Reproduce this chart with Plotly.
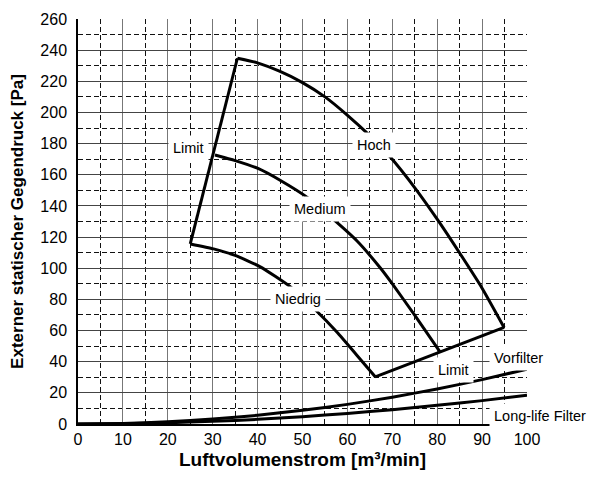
import plotly.graph_objects as go

# ---- data ----
hoch_x = [35.5, 39.8, 45.0, 49.9, 55.0, 59.9, 64.7, 69.5, 75.1, 80.3, 85.1, 90.0, 94.9]
hoch_y = [234.8, 232.0, 226.3, 219.3, 210.0, 198.5, 185.9, 171.5, 151.3, 130.2, 109.3, 87.2, 62.0]

medium_x = [30.5, 35.0, 40.2, 45.0, 51.3, 56.9, 62.1, 67.3, 69.9, 75.1, 80.7]
medium_y = [172.7, 169.1, 163.9, 156.5, 145.0, 131.3, 117.6, 100.3, 90.4, 69.4, 46.0]

niedrig_x = [25.0, 30.2, 35.0, 40.6, 47.2, 52.8, 57.7, 62.1, 66.2]
niedrig_y = [115.6, 112.4, 108.2, 100.9, 88.3, 73.5, 58.9, 44.2, 30.3]

limit_left_x = [25.0, 35.5]
limit_left_y = [115.6, 234.8]
limit_low_x = [66.2, 94.9]
limit_low_y = [30.3, 62.0]

filter_x = [0, 10, 20, 30, 40, 50, 60, 70, 80, 90, 100]
vorfilter_y = [0, 0.4, 1.4, 3.2, 5.6, 8.8, 12.6, 17.2, 22.5, 28.5, 35.2]
longlife_y = [0, 0.2, 0.8, 1.7, 3.0, 4.7, 6.8, 9.2, 12.0, 15.0, 18.4]

labels = ["Limit", "Hoch", "Medium", "Niedrig", "Limit", "Vorfilter", "Long-life Filter"]
label_x = [24.5, 66.0, 53.9, 48.9, 83.6, 91.6, 91.6]
label_y = [177.0, 179.0, 138.0, 80.5, 34.4, 42.5, 5.4]
label_anchor = ["center", "center", "center", "center", "center", "left", "left"]

x_ticks = list(range(0, 101, 10))
y_ticks = list(range(0, 261, 20))

FONT = "Liberation Sans, Arial, Helvetica, sans-serif"

fig = go.Figure()
line = dict(color="black", width=3)
for xs, ys in [(hoch_x, hoch_y), (medium_x, medium_y), (niedrig_x, niedrig_y),
               (limit_left_x, limit_left_y), (limit_low_x, limit_low_y),
               (filter_x, vorfilter_y), (filter_x, longlife_y)]:
    fig.add_trace(go.Scatter(x=xs, y=ys, mode="lines",
                             line=dict(line, shape="spline", smoothing=0.5),
                             showlegend=False, hoverinfo="skip"))

for t, x, y, a in zip(labels, label_x, label_y, label_anchor):
    fig.add_annotation(x=x, y=y, xref="x", yref="y", text=t, showarrow=False,
                       xanchor=a, bgcolor="white", borderpad=4,
                       font=dict(family=FONT, size=14.5, color="black"))

fig.update_xaxes(range=[0, 100], tickvals=x_ticks, ticktext=[str(v) for v in x_ticks],
                 showgrid=True, gridcolor="#777777", gridwidth=1,
                 minor=dict(dtick=5, showgrid=True, gridcolor="#111111", griddash="5px,3px", gridwidth=1),
                 showline=True, linecolor="black", linewidth=1.5, zeroline=False,
                 ticks="", tickfont=dict(family=FONT, size=16, color="black"),
                 title=dict(text="<b>Luftvolumenstrom [m³/min]</b>",
                            font=dict(family=FONT, size=19, color="black"), standoff=6))
fig.update_yaxes(range=[0, 260], tickvals=y_ticks, ticktext=[str(v) for v in y_ticks],
                 showgrid=True, gridcolor="#444444", gridwidth=1,
                 minor=dict(dtick=10, showgrid=True, gridcolor="#111111", griddash="5px,3px", gridwidth=1),
                 showline=True, linecolor="black", linewidth=1.5, zeroline=False,
                 ticks="", ticklabelstandoff=6, tickfont=dict(family=FONT, size=16, color="black"),
                 title=dict(text="<b>Externer statischer Gegendruck [Pa]</b>",
                            font=dict(family=FONT, size=17, color="black"), standoff=12))

fig.update_layout(width=591, height=482, margin=dict(l=78, r=64, t=11, b=58),
                  plot_bgcolor="white", paper_bgcolor="white")
fig.write_html("out.html")
